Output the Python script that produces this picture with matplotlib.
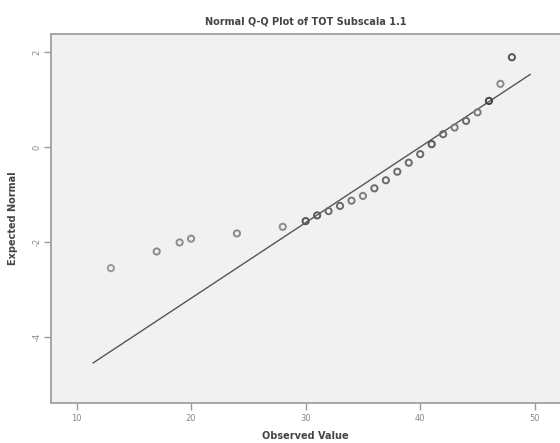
import matplotlib
matplotlib.use("Agg")
import matplotlib.pyplot as plt

# Observed scores and their expected normal quantiles
observed = [13, 17, 19, 20, 24, 28, 30, 31, 32, 33, 34, 35, 36, 37, 38, 39,
            40, 41, 42, 43, 44, 45, 46, 47, 48]
expected = [-2.55, -2.20, -2.01, -1.93, -1.82, -1.68, -1.56, -1.44, -1.35,
            -1.24, -1.13, -1.03, -0.87, -0.70, -0.52, -0.33, -0.15, 0.06,
            0.27, 0.41, 0.55, 0.73, 0.97, 1.33, 1.89]
marker_edge = ["#9a9a9a", "#8a8a8a", "#8c8c8c", "#8c8c8c", "#8a8a8a",
               "#8c8c8c", "#555555", "#5a5a5a", "#6a6a6a", "#6a6a6a",
               "#7a7a7a", "#808080", "#6a6a6a", "#6a6a6a", "#6a6a6a",
               "#6a6a6a", "#6a6a6a", "#5a5a5a", "#6a6a6a", "#7a7a7a",
               "#6a6a6a", "#7a7a7a", "#444444", "#8a8a8a", "#555555"]

# Reference normal line
line_mean = 40.0
line_sd = 6.28
line_x = [11.45, 49.6]

x_ticks = [10, 20, 30, 40, 50]
y_ticks = [2, 0, -2, -4]

fig = plt.figure(figsize=(5.6, 4.43), dpi=100)
ax = fig.add_axes([0.091, 0.0903, 0.909, 0.833])
ax.set_facecolor("#f1f1f1")

line_y = [(v - line_mean) / line_sd for v in line_x]
ax.plot(line_x, line_y, color="#555555", lw=1.0, zorder=2)

ax.scatter(observed, expected, s=20, facecolors="none",
           edgecolors=marker_edge, linewidths=1.4, zorder=3)

ax.set_xlim(7.77, 52.2)
ax.set_ylim(-5.39, 2.38)
ax.set_xticks(x_ticks)
ax.set_yticks(y_ticks)
ax.set_yticklabels([str(t) for t in y_ticks], rotation=90, va="center")

for side in ("left", "bottom", "top"):
    ax.spines[side].set_color("#a0a0a0")
    ax.spines[side].set_linewidth(1.3)
ax.spines["right"].set_visible(False)

ax.tick_params(axis="both", length=5, width=1, color="#9a9a9a",
               labelsize=6, labelcolor="#888888")
ax.tick_params(axis="y", pad=2)
ax.tick_params(axis="x", pad=3)

ax.set_title("Normal Q-Q Plot of TOT Subscala 1.1", fontsize=7,
             fontweight="bold", color="#444444", pad=7)
ax.set_xlabel("Observed Value", fontsize=7, fontweight="bold",
              color="#444444", labelpad=6)
ax.set_ylabel("Expected Normal", fontsize=7, fontweight="bold",
              color="#444444", labelpad=10)

fig.savefig("out.png", dpi=100, facecolor="white")
